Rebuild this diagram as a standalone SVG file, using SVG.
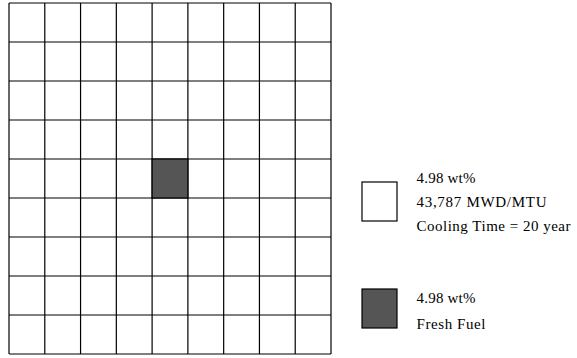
<svg xmlns="http://www.w3.org/2000/svg" width="577" height="358" viewBox="0 0 577 358">
<style>
.cell{fill:#fff;stroke:#000;stroke-width:1.2}
.fresh{fill:#555;stroke:#000;stroke-width:1.2}
.t{font-family:"Liberation Serif","DejaVu Serif",serif;font-size:15px;fill:#000}
</style>
<g id="lattice">
<rect x="9" y="3" width="322" height="351" fill="#fff"/>
<g stroke="#000" stroke-width="1.2">
<line x1="9" y1="3" x2="9" y2="354"/>
<line x1="44.78" y1="3" x2="44.78" y2="354"/>
<line x1="80.56" y1="3" x2="80.56" y2="354"/>
<line x1="116.33" y1="3" x2="116.33" y2="354"/>
<line x1="152.11" y1="3" x2="152.11" y2="354"/>
<line x1="187.89" y1="3" x2="187.89" y2="354"/>
<line x1="223.67" y1="3" x2="223.67" y2="354"/>
<line x1="259.44" y1="3" x2="259.44" y2="354"/>
<line x1="295.22" y1="3" x2="295.22" y2="354"/>
<line x1="331" y1="3" x2="331" y2="354"/>
<line x1="9" y1="3" x2="331" y2="3"/>
<line x1="9" y1="42" x2="331" y2="42"/>
<line x1="9" y1="81" x2="331" y2="81"/>
<line x1="9" y1="120" x2="331" y2="120"/>
<line x1="9" y1="159" x2="331" y2="159"/>
<line x1="9" y1="198" x2="331" y2="198"/>
<line x1="9" y1="237" x2="331" y2="237"/>
<line x1="9" y1="276" x2="331" y2="276"/>
<line x1="9" y1="315" x2="331" y2="315"/>
<line x1="9" y1="354" x2="331" y2="354"/>
</g>
</g>
<g id="fresh-assembly">
<rect class="fresh" x="152.11" y="159" width="35.78" height="39"/>
</g>
<g id="legend-spent">
<rect class="cell" x="362" y="182" width="35" height="39"/>
<text class="t" x="416.5" y="183" textLength="59">4.98 wt%</text>
<text class="t" x="416.5" y="207" textLength="130">43,787 MWD/MTU</text>
<text class="t" x="416.5" y="231" textLength="154">Cooling Time = 20 year</text>
</g>
<g id="legend-fresh">
<rect class="fresh" x="362" y="289" width="35" height="39"/>
<text class="t" x="416.5" y="303" textLength="59">4.98 wt%</text>
<text class="t" x="416.5" y="329" textLength="69">Fresh Fuel</text>
</g>
</svg>
